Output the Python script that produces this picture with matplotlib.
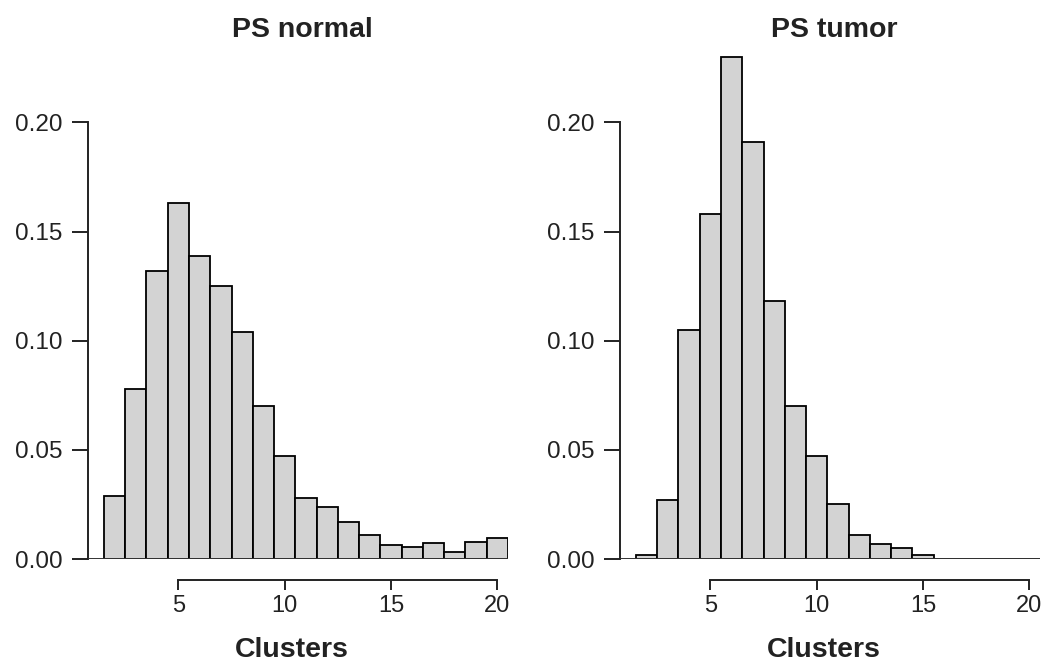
import matplotlib
matplotlib.use("Agg")
import matplotlib.pyplot as plt

plt.rcParams['font.family'] = ['Liberation Sans', 'DejaVu Sans']

clusters = list(range(2, 21))
normal_density = [0.029, 0.078, 0.132, 0.163, 0.139, 0.125, 0.104, 0.070, 0.047,
                  0.028, 0.024, 0.017, 0.011, 0.0065, 0.0055, 0.0073, 0.0032,
                  0.0078, 0.0097]
tumor_density = [0.002, 0.027, 0.105, 0.158, 0.230, 0.191, 0.118, 0.070, 0.047,
                 0.025, 0.011, 0.007, 0.005, 0.002, 0.0, 0.0, 0.0, 0.0, 0.0]
titles = ["PS normal", "PS tumor"]
xlabel = "Clusters"
xticks = [5, 10, 15, 20]
yticks = [0.00, 0.05, 0.10, 0.15, 0.20]
ytick_labels = ["0.00", "0.05", "0.10", "0.15", "0.20"]

W, H = 1045, 662
fig = plt.figure(figsize=(W / 100, H / 100), dpi=100)

txt = '#222222'
panels = [(88, normal_density, titles[0]), (620, tumor_density, titles[1])]
for left_px, dens, title in panels:
    ax = fig.add_axes([left_px / W, (H - 559) / H, 420 / W, (559 - 46) / H])
    ax.bar(clusters, dens, width=1.0, color='#d3d3d3', edgecolor='black',
           linewidth=1.3, align='center', zorder=2)
    ax.axhline(0, color='#333333', linewidth=1.4, zorder=3)
    ax.set_xlim(0.75, 20.5)
    ax.set_ylim(0, 0.235)
    for s in ['top', 'right']:
        ax.spines[s].set_visible(False)
    ax.spines['left'].set_bounds(0, 0.20)
    ax.spines['left'].set_linewidth(1.4)
    ax.spines['left'].set_color('#222222')
    ax.spines['bottom'].set_bounds(5, 20)
    ax.spines['bottom'].set_position(('outward', 15))
    ax.spines['bottom'].set_linewidth(1.4)
    ax.spines['bottom'].set_color('#222222')
    ax.set_xticks(xticks)
    ax.set_xticklabels([str(t) for t in xticks])
    ax.set_yticks(yticks)
    ax.set_yticklabels(ytick_labels)
    ax.tick_params(axis='y', length=11.5, width=1.4, pad=7, labelsize=17.5,
                   colors='#222222', labelcolor=txt)
    ax.tick_params(axis='x', length=7, width=1.4, pad=4, labelsize=17,
                   colors='#222222', labelcolor=txt)
    fig.text((left_px + 214) / W, (H - 37) / H, title, ha='center', va='baseline',
             fontsize=20.5, fontweight='bold', color=txt)
    fig.text((left_px + 204) / W, (H - 657) / H, xlabel, ha='center', va='baseline',
             fontsize=20.5, fontweight='bold', color=txt)

fig.savefig("out.png", dpi=100)
